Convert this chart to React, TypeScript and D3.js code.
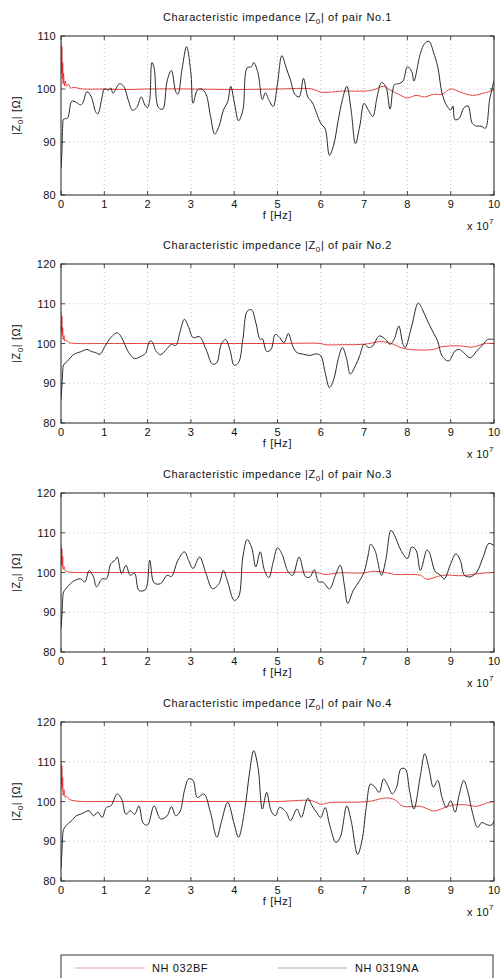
import React from "react";
import * as d3 from "d3";

const xTicks = [0, 1, 2, 3, 4, 5, 6, 7, 8, 9, 10];
const yTicksP1 = [80, 90, 100, 110];
const yTicksOther = [80, 90, 100, 110, 120];
const seriesNames = ["NH 032BF", "NH 0319NA"];
const titlePrefix = "Characteristic impedance |Z";
const pairLabels = ["No.1", "No.2", "No.3", "No.4"];

// NH 0319NA (black) – pair 1
const pair1NA: [number, number][] = [
  [0, 85], [0.02, 88], [0.04, 93], [0.06, 94.3], [0.15, 94.5], [0.25, 97.7], [0.35, 97.5], [0.45, 97], [0.5, 97.3],
  [0.6, 99.5], [0.7, 98.5], [0.8, 95.7], [0.85, 95.3], [0.95, 98.5], [1.0, 100], [1.1, 99.8], [1.15, 100.2],
  [1.2, 99.2], [1.3, 100.5], [1.35, 101], [1.45, 100.5], [1.55, 98], [1.65, 96], [1.75, 96.5], [1.85, 98.5],
  [1.95, 96.8], [2.0, 96.5], [2.05, 98], [2.1, 105], [2.15, 104], [2.25, 96.5], [2.35, 96.2], [2.45, 101.5],
  [2.55, 103.5], [2.65, 99.5], [2.7, 99], [2.8, 104], [2.9, 108], [3.0, 103], [3.05, 97.3], [3.15, 99.8],
  [3.25, 100], [3.35, 99], [3.45, 95], [3.55, 91.5], [3.65, 93], [3.75, 96], [3.85, 97.6], [3.92, 100.5],
  [4.0, 97.6], [4.1, 94], [4.2, 96], [4.3, 104], [4.4, 104.2], [4.45, 105], [4.55, 103], [4.65, 98],
  [4.72, 99.3], [4.8, 98], [4.9, 96.7], [5.0, 101], [5.1, 106.3], [5.2, 104], [5.3, 101.7], [5.4, 99],
  [5.5, 98.5], [5.6, 102], [5.7, 98.5], [5.8, 97.5], [5.9, 95.5], [6.0, 93.5], [6.1, 92.5], [6.2, 87.5],
  [6.3, 89.5], [6.4, 94], [6.5, 98], [6.6, 100.5], [6.7, 96], [6.8, 89.7], [6.9, 93], [7.0, 97.3], [7.1, 96],
  [7.2, 94.8], [7.3, 98.5], [7.4, 101.2], [7.5, 100.5], [7.6, 96.2], [7.7, 100.8], [7.8, 101], [7.9, 101.5],
  [8.0, 104.2], [8.1, 103.3], [8.15, 101.5], [8.3, 106.7], [8.4, 108.6], [8.5, 109], [8.6, 107], [8.7, 104.2],
  [8.8, 99.2], [8.9, 97], [9.0, 96], [9.05, 96.8], [9.1, 94.2], [9.2, 94.5], [9.3, 96.4], [9.4, 96.8],
  [9.5, 93.5], [9.6, 93], [9.7, 93], [9.8, 92.6], [9.9, 98], [10.0, 101.6],
];
// NH 032BF (red) – pair 1
const pair1BF: [number, number][] = [
  [0, 109], [0.01, 103], [0.02, 108], [0.03, 102], [0.04, 105], [0.05, 101], [0.06, 103], [0.08, 100.6],
  [0.1, 101.5], [0.13, 100.5], [0.17, 100.9], [0.22, 100.2], [0.3, 100.3], [0.5, 100], [1.0, 100], [1.5, 99.9],
  [2.0, 100], [3.0, 100], [4.0, 99.9], [5.0, 100], [5.8, 100], [6.0, 99.4], [6.2, 99.4], [6.5, 99.6],
  [7.0, 99.6], [7.2, 99.8], [7.45, 100.5], [7.6, 99.8], [7.8, 99], [8.0, 98.3], [8.2, 98.8], [8.4, 98.5],
  [8.6, 99], [8.8, 99], [9.0, 100], [9.2, 99.5], [9.5, 98.8], [9.8, 99.3], [10.0, 99.8],
];

const pair2NA: [number, number][] = [
  [0, 86], [0.02, 89], [0.04, 93], [0.06, 94.6], [0.15, 95.6], [0.3, 97.3], [0.45, 97.9], [0.6, 98.5], [0.7, 98],
  [0.8, 97.7], [0.9, 97.3], [1.0, 99], [1.15, 101.5], [1.3, 102.7], [1.4, 101.5], [1.55, 98], [1.7, 96.2],
  [1.85, 96.8], [1.95, 97.5], [2.05, 100.6], [2.1, 100.5], [2.2, 98], [2.3, 97.2], [2.45, 98.7], [2.55, 99.8],
  [2.65, 99.5], [2.75, 103], [2.85, 106.1], [2.95, 104], [3.05, 101.5], [3.2, 101.7], [3.35, 98.5], [3.5, 94.8],
  [3.6, 95.2], [3.7, 99.8], [3.8, 101], [3.9, 98.5], [4.0, 94.5], [4.1, 95.2], [4.2, 101], [4.3, 108.1],
  [4.4, 108.5], [4.5, 105.2], [4.6, 101], [4.65, 101.2], [4.75, 98], [4.85, 98.5], [4.95, 102.3], [5.05, 101.5],
  [5.15, 100.2], [5.25, 102.5], [5.35, 99.4], [5.45, 97.7], [5.6, 97.3], [5.75, 97], [5.9, 97.4], [6.0, 96.9],
  [6.1, 92.7], [6.2, 88.9], [6.3, 91], [6.4, 96], [6.5, 99], [6.6, 96], [6.68, 92.3], [6.8, 94.4], [6.9, 97],
  [7.0, 99.8], [7.1, 99], [7.2, 99.4], [7.35, 101.9], [7.5, 101], [7.6, 99.8], [7.7, 101.2], [7.8, 104.4],
  [7.9, 99.8], [7.95, 99], [8.1, 104.4], [8.25, 110.2], [8.35, 108.5], [8.45, 106], [8.6, 102.7], [8.7, 100.6],
  [8.8, 96.9], [8.95, 95.6], [9.1, 98.1], [9.2, 98.5], [9.3, 97.7], [9.45, 96.4], [9.6, 98.1], [9.75, 99.8],
  [9.85, 101], [10.0, 101],
];
const pair2BF: [number, number][] = [
  [0, 108], [0.01, 103], [0.02, 107], [0.03, 102], [0.04, 104], [0.05, 101], [0.07, 102], [0.09, 100.6],
  [0.12, 100.8], [0.2, 100.2], [0.4, 100], [1.0, 100], [2.0, 100], [3.0, 100], [4.0, 100], [5.0, 100],
  [6.0, 100], [6.1, 99.7], [6.5, 99.7], [7.0, 99.8], [7.4, 100.5], [7.6, 100.1], [7.9, 98.8], [8.2, 98.4],
  [8.6, 98.5], [8.8, 99.2], [9.2, 99.4], [9.5, 99.1], [9.8, 100], [10.0, 100],
];

const pair3NA: [number, number][] = [
  [0, 86], [0.02, 89], [0.04, 93.5], [0.06, 95.1], [0.15, 96.4], [0.3, 97.9], [0.45, 98.4], [0.55, 97.6],
  [0.65, 100.5], [0.75, 98.9], [0.82, 96.4], [0.95, 98.4], [1.05, 98.4], [1.15, 102.2], [1.25, 103.1],
  [1.3, 103.9], [1.4, 99.7], [1.5, 101.8], [1.6, 99.3], [1.7, 99.8], [1.8, 95.5], [1.95, 95.7], [2.05, 103.1],
  [2.15, 97.4], [2.3, 97.2], [2.45, 99.3], [2.55, 99], [2.7, 103.1], [2.85, 105.2], [2.95, 103], [3.05, 101],
  [3.2, 103.9], [3.35, 99.7], [3.5, 95.9], [3.65, 97.2], [3.75, 100.5], [3.85, 97.6], [4.0, 93], [4.1, 93.8],
  [4.2, 103.9], [4.3, 108.3], [4.4, 106.4], [4.5, 101.4], [4.6, 105.2], [4.7, 100.5], [4.8, 98.7], [4.9, 102.6],
  [5.0, 106.2], [5.1, 104.7], [5.25, 100.1], [5.35, 99.3], [5.5, 103.9], [5.65, 98.9], [5.75, 98.9],
  [5.85, 100.7], [5.95, 97.6], [6.05, 97.6], [6.2, 95.9], [6.35, 99.7], [6.45, 101.8], [6.55, 96.4],
  [6.62, 92.2], [6.75, 95.5], [6.9, 98], [7.0, 100.1], [7.1, 104.7], [7.15, 107.1], [7.25, 105.6], [7.4, 99.3],
  [7.5, 103.1], [7.62, 110.6], [7.7, 109.4], [7.85, 105.6], [8.0, 103.5], [8.1, 106.4], [8.2, 105.6],
  [8.3, 100.5], [8.45, 105.6], [8.5, 105.2], [8.65, 100.1], [8.75, 99.5], [8.85, 98.4], [9.0, 102.2],
  [9.12, 104.7], [9.22, 103.1], [9.32, 99.3], [9.45, 98.9], [9.6, 100.1], [9.75, 103.9], [9.88, 107.3],
  [10.0, 106.8],
];
const pair3BF: [number, number][] = [
  [0, 107], [0.01, 102], [0.02, 106], [0.03, 101.5], [0.04, 104], [0.05, 100.8], [0.07, 101.5], [0.1, 100.5],
  [0.2, 100.1], [0.5, 100], [1.0, 100], [2.0, 100], [3.0, 100], [4.0, 100], [5.0, 100], [5.9, 100],
  [6.1, 99.5], [6.4, 99.9], [7.0, 99.9], [7.2, 100.3], [7.5, 100], [7.7, 99.5], [8.0, 99.5], [8.3, 99.3],
  [8.45, 98.3], [8.8, 99.3], [9.3, 99.2], [9.7, 99.8], [10.0, 100],
];

const pair4NA: [number, number][] = [
  [0, 83], [0.02, 87], [0.04, 91.5], [0.06, 93], [0.15, 94.3], [0.25, 95.2], [0.35, 96.4], [0.45, 96.8],
  [0.55, 97.3], [0.65, 97.7], [0.75, 96.4], [0.85, 97.3], [0.95, 96], [1.05, 98.5], [1.15, 98.9], [1.3, 101.9],
  [1.4, 100.6], [1.5, 96.8], [1.6, 97.7], [1.7, 96.8], [1.8, 98.9], [1.9, 94.5], [2.0, 94.1], [2.15, 98.9],
  [2.3, 95.6], [2.45, 96.4], [2.55, 98.7], [2.65, 96.4], [2.75, 97.5], [2.85, 102.7], [2.95, 105.7],
  [3.05, 105.3], [3.15, 101], [3.3, 101.9], [3.45, 97.3], [3.6, 91], [3.7, 94.7], [3.85, 99.8], [4.0, 94.3],
  [4.1, 91], [4.25, 98.5], [4.35, 106.9], [4.45, 112.8], [4.55, 108.6], [4.65, 98.1], [4.75, 102.3],
  [4.85, 97.7], [4.95, 96.4], [5.05, 98.5], [5.2, 97.3], [5.3, 95.2], [5.45, 98.1], [5.55, 96], [5.7, 100.8],
  [5.8, 98.9], [5.9, 97.3], [6.0, 96], [6.1, 98.5], [6.2, 94.3], [6.35, 89.7], [6.45, 91], [6.6, 98.9],
  [6.7, 95.2], [6.85, 86.7], [6.95, 90.1], [7.05, 98.5], [7.15, 104.4], [7.25, 103.6], [7.35, 102.3],
  [7.45, 105.7], [7.55, 104], [7.65, 101.9], [7.75, 103.6], [7.85, 108.2], [7.95, 108.2], [8.05, 102.7],
  [8.15, 98.1], [8.3, 106.5], [8.4, 112], [8.5, 108.2], [8.6, 103.6], [8.7, 105.3], [8.8, 101], [8.9, 98.5],
  [9.0, 100.2], [9.1, 97.3], [9.2, 101.9], [9.3, 105.3], [9.4, 102.3], [9.5, 97.3], [9.62, 93.5], [9.72, 94.7],
  [9.85, 94.1], [9.95, 94.1], [10.0, 95.2],
];
const pair4BF: [number, number][] = [
  [0, 110], [0.01, 104], [0.02, 109], [0.03, 103], [0.04, 106], [0.05, 101.5], [0.07, 103], [0.1, 101],
  [0.13, 101.3], [0.2, 100.5], [0.3, 100.2], [0.5, 100], [1.0, 100], [2.0, 100], [3.0, 100], [4.0, 100],
  [5.0, 100], [5.7, 100.3], [5.85, 100], [6.0, 99.3], [6.2, 99.7], [7.0, 99.9], [7.2, 100.2], [7.5, 100.9],
  [7.7, 100.5], [7.9, 98.8], [8.3, 98.8], [8.6, 97.6], [8.7, 97.8], [9.0, 99], [9.3, 99.2], [9.6, 98.8],
  [9.8, 99.5], [10.0, 100],
];

const panelNA = [pair1NA, pair2NA, pair3NA, pair4NA];
const panelBF = [pair1BF, pair2BF, pair3BF, pair4BF];
const yDomains: [number, number][] = [[80, 110], [80, 120], [80, 120], [80, 120]];
const yTickSets = [yTicksP1, yTicksOther, yTicksOther, yTicksOther];

const W = 503;
const H = 978;
const LEFT = 61;
const RIGHT = 494;
const PLOT_H = 159;
const TOPS = [36, 264, 493, 722];
const FONT = "'Liberation Sans', Arial, Helvetica, sans-serif";
const FS = 11;
const LS = 0.6;
const RED = "#e3302b";
const BLACK = "#2a2a2a";

function Panel({ idx }: { idx: number }) {
  const top = TOPS[idx];
  const bottom = top + PLOT_H;
  const x = d3.scaleLinear().domain([0, 10]).range([LEFT, RIGHT]);
  const y = d3.scaleLinear().domain(yDomains[idx]).range([bottom, top]);
  const line = d3
    .line<[number, number]>()
    .x((d) => x(d[0]))
    .y((d) => y(d[1]))
    .curve(d3.curveCatmullRom.alpha(0.5));
  const yTicks = yTickSets[idx];
  const clipId = `clip${idx}`;
  const midX = (LEFT + RIGHT) / 2;
  const midY = (top + bottom) / 2;
  return (
    <g>
      <defs>
        <clipPath id={clipId}>
          <rect x={LEFT} y={top} width={RIGHT - LEFT} height={PLOT_H} />
        </clipPath>
      </defs>
      <rect x={LEFT} y={top} width={RIGHT - LEFT} height={PLOT_H} fill="#fff" />
      {xTicks.slice(1, -1).map((t) => (
        <line key={"gx" + t} x1={x(t)} x2={x(t)} y1={top} y2={bottom} stroke="#b5b5b5" strokeWidth={0.8} strokeDasharray="1,3" />
      ))}
      {yTicks.slice(1, -1).map((t) => (
        <line key={"gy" + t} x1={LEFT} x2={RIGHT} y1={y(t)} y2={y(t)} stroke="#b5b5b5" strokeWidth={0.8} strokeDasharray="1,3" />
      ))}
      {xTicks.map((t) => (
        <g key={"tx" + t}>
          <line x1={x(t)} x2={x(t)} y1={bottom} y2={bottom - 4} stroke="#222" strokeWidth={0.8} />
          <line x1={x(t)} x2={x(t)} y1={top} y2={top + 4} stroke="#222" strokeWidth={0.8} />
          <text x={x(t)} y={bottom + 13} textAnchor="middle" fontSize={FS} fontFamily={FONT} fill="#111">
            {t}
          </text>
        </g>
      ))}
      {yTicks.map((t) => (
        <g key={"ty" + t}>
          <line x1={LEFT} x2={LEFT + 4} y1={y(t)} y2={y(t)} stroke="#222" strokeWidth={0.8} />
          <line x1={RIGHT} x2={RIGHT - 4} y1={y(t)} y2={y(t)} stroke="#222" strokeWidth={0.8} />
          <text x={LEFT - 5} y={y(t) + 4} textAnchor="end" fontSize={FS} fontFamily={FONT} fill="#111" letterSpacing={0.3}>
            {t}
          </text>
        </g>
      ))}
      <g clipPath={`url(#${clipId})`}>
        <path d={line(panelBF[idx]) || ""} fill="none" stroke={RED} strokeWidth={0.9} />
        <path d={line(panelNA[idx]) || ""} fill="none" stroke={BLACK} strokeWidth={1} />
      </g>
      <rect x={LEFT} y={top} width={RIGHT - LEFT} height={PLOT_H} fill="none" stroke="#222" strokeWidth={1} />
      <text x={midX} y={top - 15} textAnchor="middle" fontSize={FS} fontFamily={FONT} fill="#111" letterSpacing={LS}>
        {titlePrefix}
        <tspan fontSize={8} dy={3}>0</tspan>
        <tspan dy={-3}>{"| of pair " + pairLabels[idx]}</tspan>
      </text>
      <text x={midX} y={bottom + 24} textAnchor="middle" fontSize={FS} fontFamily={FONT} fill="#111" letterSpacing={LS}>
        f [Hz]
      </text>
      <text x={467} y={bottom + 35} fontSize={FS} fontFamily={FONT} fill="#111" letterSpacing={0.3}>
        x 10<tspan fontSize={8} dy={-6}>7</tspan>
      </text>
      <text
        transform={`translate(${20},${midY}) rotate(-90)`}
        textAnchor="middle"
        fontSize={FS}
        fontFamily={FONT}
        fill="#111"
        letterSpacing={LS}
      >
        |Z<tspan fontSize={8} dy={3}>0</tspan>
        <tspan dy={-3}>| [Ω]</tspan>
      </text>
    </g>
  );
}

export default function App() {
  const legendTop = 955;
  return (
    <svg
      width={W}
      height={H}
      style={{ position: "absolute", left: 0, top: 0, background: "#fff" }}
    >
      <rect x={0} y={0} width={W} height={H} fill="#fff" />
      {[0, 1, 2, 3].map((i) => (
        <Panel key={i} idx={i} />
      ))}
      <rect x={61} y={legendTop} width={432} height={40} fill="#fff" stroke="#333" strokeWidth={1} />
      <line x1={75} x2={145} y1={968} y2={968} stroke="#eaa2a2" strokeWidth={1.2} />
      <text x={152} y={972} fontSize={FS} fontFamily={FONT} fill="#111" letterSpacing={0.6}>
        {seriesNames[0]}
      </text>
      <line x1={278} x2={347} y1={968} y2={968} stroke="#a8a8a8" strokeWidth={1.2} />
      <text x={355} y={972} fontSize={FS} fontFamily={FONT} fill="#111" letterSpacing={0.6}>
        {seriesNames[1]}
      </text>
    </svg>
  );
}
